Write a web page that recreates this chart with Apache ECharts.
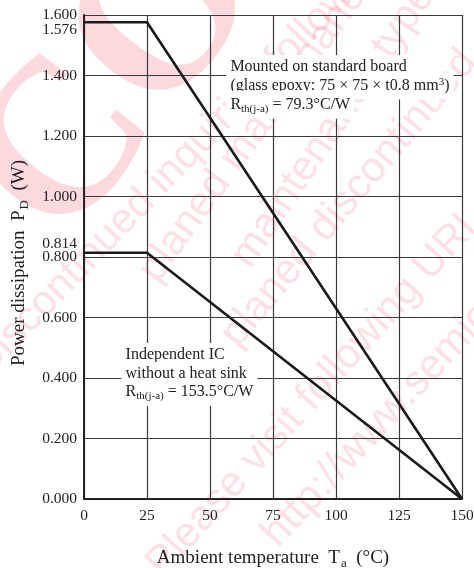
<!DOCTYPE html>
<html><head><meta charset="utf-8">
<script src="https://cdn.jsdelivr.net/npm/echarts@6/dist/echarts.min.js"></script>
<style>html,body{margin:0;padding:0;background:#fff}#c{width:474px;height:568px}</style>
</head><body><div id="c"></div>
<script>
// ---- data ----
const temps = [0, 25, 150];
const boardPower = [1.576, 1.576, 0];
const icPower = [0.814, 0.814, 0];
const extraYTicks = [1.576, 0.814];
const boardNote = ['Mounted on standard board', '(glass epoxy: 75 × 75 × t0.8 mm{sup|3})', 'R{sub|th(j-a)} = 79.3°C/W'];
const icNote = ['Independent IC', 'without a heat sink', 'R{sub|th(j-a)} = 153.5°C/W'];
const watermark = [
  'e/Discontinued inquiries following',
  'planed maintenance',
  'maintenance type',
  'planed discontinued',
  'Please visit following URL',
  'http://www.semicon'
];

const FONT = '"Liberation Serif", "Times New Roman", serif';
const WMFONT = '"Liberation Sans", Arial, sans-serif';
const INK = '#222';

const chart = echarts.init(document.getElementById('c'), null, {renderer: 'canvas'});

const subRich = {
  sub: {fontFamily: FONT, fontSize: 13, color: INK, padding: [11, 0, 0, 1]}
};

chart.setOption({
  backgroundColor: '#fff',
  animation: false,
  grid: {left: 84, right: 12, top: 15, bottom: 69, containLabel: false, outerBoundsMode: 'none'},
  xAxis: {
    type: 'value', min: 0, max: 150, interval: 25,
    name: 'Ambient temperature  T{sub|a}  (°C)',
    nameLocation: 'middle', nameGap: 47,
    nameTextStyle: {fontFamily: FONT, fontSize: 19, color: INK, rich: subRich},
    axisLine: {show: true, lineStyle: {color: '#222', width: 2}},
    axisTick: {show: false},
    axisLabel: {fontFamily: FONT, fontSize: 15.5, color: INK, margin: 9},
    splitLine: {show: true, lineStyle: {color: '#3a3a3a', width: 1.2}}
  },
  yAxis: {
    type: 'value', min: 0, max: 1.6, interval: 0.2,
    name: 'Power dissipation  P{sub|D}  (W)',
    nameLocation: 'middle', nameGap: 53,
    nameTextStyle: {fontFamily: FONT, fontSize: 19, color: INK, rich: subRich, padding: [0, 12, 0, 0]},
    axisLine: {show: true, lineStyle: {color: '#222', width: 2}},
    axisTick: {show: false},
    axisLabel: {fontFamily: FONT, fontSize: 15.5, color: INK, margin: 7,
      formatter: v => v.toFixed(3)},
    splitLine: {show: true, lineStyle: {color: '#3a3a3a', width: 1.2}}
  },
  series: [
    {type: 'line', name: 'board', data: temps.map((t, i) => [t, boardPower[i]]),
      symbol: 'none', lineStyle: {color: '#1a1a1a', width: 2.6}, z: 5},
    {type: 'line', name: 'ic', data: temps.map((t, i) => [t, icPower[i]]),
      symbol: 'none', lineStyle: {color: '#1a1a1a', width: 2.6}, z: 5}
  ]
});

function px(x, y) { return chart.convertToPixel({gridIndex: 0}, [x, y]); }

const noteRich = {
  sub: {fontFamily: FONT, fontSize: 11, fill: INK, padding: [9, 0, 0, 0]},
  sup: {fontFamily: FONT, fontSize: 11, fill: INK, padding: [0, 0, 8, 0]}
};

function noteLines(lines, x, ys) {
  return lines.map((t, i) => {
    const p = px(x, ys[i]);
    return {
      type: 'text', z: 20, x: p[0], y: p[1],
      style: {
        text: t, rich: noteRich, fontFamily: FONT, fontSize: 16, fill: INK,
        align: 'left', verticalAlign: 'middle',
        backgroundColor: '#fff', padding: [4, 4, 4, 4]
      }
    };
  });
}

const graphics = [];
// extra y tick labels
const lbl1576 = px(0, extraYTicks[0]);
const lbl814 = px(0, extraYTicks[1]);
graphics.push({type: 'text', z: 20, x: lbl1576[0] - 7, y: lbl1576[1] + 8,
  style: {text: extraYTicks[0].toFixed(3), fontFamily: FONT, fontSize: 15.5, fill: INK, align: 'right', verticalAlign: 'middle'}});
graphics.push({type: 'text', z: 20, x: lbl814[0] - 7, y: lbl814[1] - 9,
  style: {text: extraYTicks[1].toFixed(3), fontFamily: FONT, fontSize: 15.5, fill: INK, align: 'right', verticalAlign: 'middle'}});

// annotations
graphics.push(...noteLines(boardNote, 56.5, [1.428, 1.365, 1.303]));
graphics.push(...noteLines(icNote, 14.9, [0.476, 0.413, 0.354]));

// watermark (decorative)
const wmPos = [[-30, 410, 46], [165, 290, 54], [258, 275, 56], [245, 355, 50], [170, 585, 48], [285, 555, 47]];
watermark.forEach((t, i) => {
  const [x, y, deg] = wmPos[i];
  graphics.push({type: 'text', z: -5, x: x, y: y, rotation: deg * Math.PI / 180,
    style: {text: t, fontFamily: WMFONT, fontSize: 42, fill: 'rgba(235,70,90,0.17)', align: 'left', verticalAlign: 'bottom'}});
});
graphics.push({type: 'text', z: -5, x: 105, y: 281, rotation: 52 * Math.PI / 180,
  style: {text: 'CO', fontFamily: FONT, fontWeight: 'bold', fontSize: 220, fill: 'rgba(240,80,100,0.22)', align: 'left', verticalAlign: 'bottom'}});

chart.setOption({graphic: graphics});
</script>
</body></html>
